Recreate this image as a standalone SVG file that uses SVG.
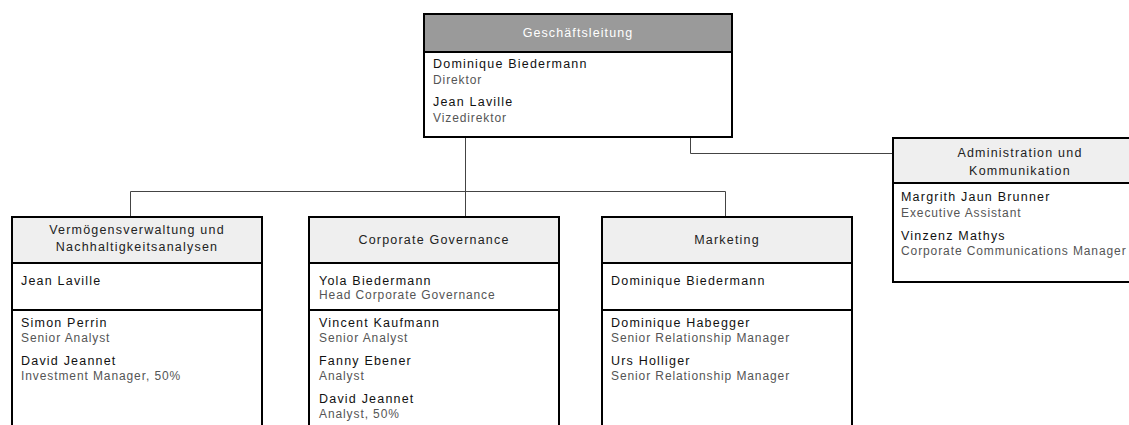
<svg xmlns="http://www.w3.org/2000/svg" width="1129" height="425" viewBox="0 0 1129 425">
<style>
.box{fill:#fff;stroke:#000;stroke-width:2}
.hdr{fill:#efefef;stroke:#000;stroke-width:2}
.hdrd{fill:#9a9a9a;stroke:#000;stroke-width:2}
.div{stroke:#000;stroke-width:2}
.conn{fill:none;stroke:#444;stroke-width:1}
text{font-family:"Liberation Sans",Arial,sans-serif;font-size:12px}
.h{fill:#222;text-anchor:middle;font-size:12.5px;letter-spacing:1.2px}
.hw{fill:#fff;text-anchor:middle;font-size:12.5px;letter-spacing:1.1px}
.n{fill:#111;font-size:12.5px;letter-spacing:1.2px}
.d{fill:#555;letter-spacing:0.9px}
</style>
<rect width="1129" height="425" fill="#fff"/>
<g id="connectors">
<path class="conn" d="M465.5 137V217"/>
<path class="conn" d="M130.5 217V191.5H725.5V217"/>
<path class="conn" d="M690.5 137V153.5H893"/>
</g>
<g id="geschaeftsleitung">
<rect class="box" x="424" y="14" width="308" height="123"/>
<rect class="hdrd" x="424" y="14" width="308" height="38"/>
<text class="hw" x="578" y="37">Geschäftsleitung</text>
<text class="n" x="433" y="68">Dominique Biedermann</text>
<text class="d" x="433" y="84">Direktor</text>
<text class="n" x="433" y="106">Jean Laville</text>
<text class="d" x="433" y="122">Vizedirektor</text>
</g>
<g id="administration">
<rect class="box" x="893" y="138" width="260" height="144"/>
<rect class="hdr" x="893" y="138" width="260" height="45"/>
<text class="h" x="1020" y="157">Administration und</text>
<text class="h" x="1020" y="175">Kommunikation</text>
<text class="n" x="901" y="201">Margrith Jaun Brunner</text>
<text class="d" x="901" y="217">Executive Assistant</text>
<text class="n" x="901" y="240">Vinzenz Mathys</text>
<text class="d" x="901" y="255">Corporate Communications Manager</text>
</g>
<g id="vermoegensverwaltung">
<rect class="box" x="12" y="217" width="250" height="220"/>
<rect class="hdr" x="12" y="217" width="250" height="46"/>
<line class="div" x1="12" y1="310" x2="262" y2="310"/>
<text class="h" x="137" y="234">Vermögensverwaltung und</text>
<text class="h" x="137" y="251">Nachhaltigkeitsanalysen</text>
<text class="n" x="21" y="285">Jean Laville</text>
<text class="n" x="21" y="327">Simon Perrin</text>
<text class="d" x="21" y="342">Senior Analyst</text>
<text class="n" x="21" y="365">David Jeannet</text>
<text class="d" x="21" y="380">Investment Manager, 50%</text>
</g>
<g id="corporate-governance">
<rect class="box" x="309" y="217" width="250" height="220"/>
<rect class="hdr" x="309" y="217" width="250" height="46"/>
<line class="div" x1="309" y1="310" x2="559" y2="310"/>
<text class="h" x="434" y="244">Corporate Governance</text>
<text class="n" x="319" y="285">Yola Biedermann</text>
<text class="d" x="319" y="299">Head Corporate Governance</text>
<text class="n" x="319" y="327">Vincent Kaufmann</text>
<text class="d" x="319" y="342">Senior Analyst</text>
<text class="n" x="319" y="365">Fanny Ebener</text>
<text class="d" x="319" y="380">Analyst</text>
<text class="n" x="319" y="403">David Jeannet</text>
<text class="d" x="319" y="418">Analyst, 50%</text>
</g>
<g id="marketing">
<rect class="box" x="602" y="217" width="250" height="220"/>
<rect class="hdr" x="602" y="217" width="250" height="46"/>
<line class="div" x1="602" y1="310" x2="852" y2="310"/>
<text class="h" x="727" y="244">Marketing</text>
<text class="n" x="611" y="285">Dominique Biedermann</text>
<text class="n" x="611" y="327">Dominique Habegger</text>
<text class="d" x="611" y="342">Senior Relationship Manager</text>
<text class="n" x="611" y="365">Urs Holliger</text>
<text class="d" x="611" y="380">Senior Relationship Manager</text>
</g>
</svg>
